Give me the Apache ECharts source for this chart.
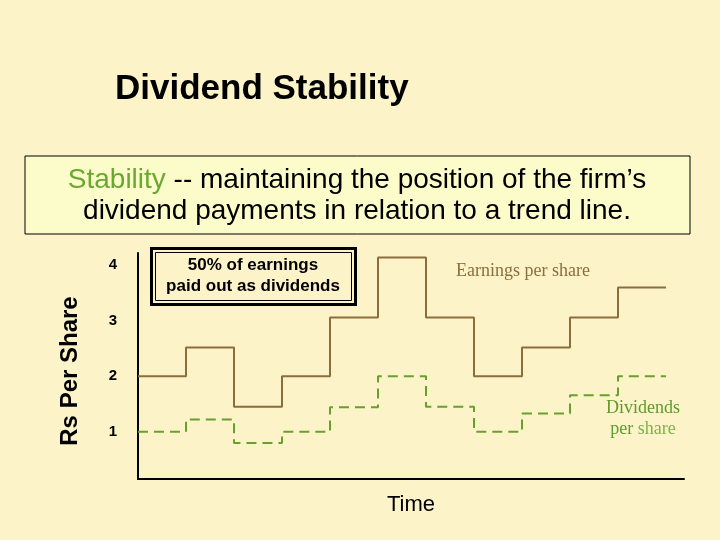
<!DOCTYPE html>
<html>
<head>
<meta charset="utf-8">
<script src="https://cdn.jsdelivr.net/npm/echarts@6/dist/echarts.min.js"></script>
<style>
  html, body { margin: 0; padding: 0; background: #fdf3c9; }
  #main { width: 720px; height: 540px; }
</style>
</head>
<body>
<div id="main"></div>
<script>
var myChart = echarts.init(document.getElementById('main'));

// step boundaries (time periods) and values per period
var periods = [0, 1, 2, 3, 4, 5, 6, 7, 8, 9, 10, 11];
var earnings = [2.0, 2.52, 1.45, 2.0, 3.06, 4.14, 3.06, 2.0, 2.52, 3.06, 3.6];
var dividends = [1.0, 1.22, 0.8, 1.0, 1.44, 2.0, 1.45, 1.0, 1.33, 1.66, 2.0];
var yTicks = [1, 2, 3, 4];

var colors = ['#8c6e3d', '#67a02c'];

function stepData(values) {
	return periods.map(function(p, i) {
		return [p, values[Math.min(i, values.length - 1)]];
	});
}

var shadow = {
	textShadowColor: 'rgba(0,0,0,0.3)',
	textShadowOffsetX: 1,
	textShadowOffsetY: 1,
	textShadowBlur: 0
};

var option = {
	backgroundColor: '#fdf3c9',
	animation: false,
	title: {
		text: 'Dividend Stability',
		left: 110,
		top: 67,
		textStyle: {
			fontFamily: 'Liberation Sans',
			fontSize: 35,
			fontWeight: 'bold',
			color: '#000'
		}
	},
	grid: {
		left: 138,
		right: 36,
		top: 253,
		bottom: 61
	},
	xAxis: {
		type: 'value',
		min: 0,
		max: 11.375,
		name: 'Time',
		nameLocation: 'middle',
		nameGap: 15,
		nameTextStyle: {
			fontFamily: 'Liberation Sans',
			fontSize: 22,
			color: '#000'
		},
		axisLine: { lineStyle: { color: '#000', width: 2 } },
		axisTick: { show: false },
		axisLabel: { show: false },
		splitLine: { show: false }
	},
	yAxis: {
		type: 'value',
		min: 0.15,
		max: 4.22,
		axisLine: { show: true, lineStyle: { color: '#000', width: 2 } },
		axisTick: { show: false },
		axisLabel: {
			customValues: yTicks,
			margin: 21,
			fontFamily: 'Liberation Sans',
			fontSize: 15,
			fontWeight: 'bold',
			color: '#000'
		},
		splitLine: { show: false }
	},
	series: [{
			name: 'Earnings per share',
			type: 'line',
			step: 'end',
			symbol: 'none',
			lineStyle: { color: colors[0], width: 2 },
			data: stepData(earnings)
		},
		{
			name: 'Dividends per share',
			type: 'line',
			step: 'end',
			symbol: 'none',
			lineStyle: { color: colors[1], width: 2, type: [10, 6] },
			data: stepData(dividends)
		}
	],
	graphic: [
		// y axis title
		{
			type: 'text',
			x: 70,
			y: 371,
			rotation: Math.PI / 2,
			style: {
				text: 'Rs Per Share',
				align: 'center',
				verticalAlign: 'middle',
				fontFamily: 'Liberation Sans',
				fontSize: 24,
				fontWeight: 'bold',
				fill: '#000'
			}
		},
		// definition box
		{
			type: 'rect',
			shape: { x: 25, y: 156, width: 665, height: 78 },
			style: { fill: '#fcfccb', stroke: '#000', lineWidth: 1 }
		},
		{
			type: 'text',
			x: 357,
			y: 180,
			style: {
				text: '{g|Stability} -- maintaining the position of the firm\u2019s',
				align: 'center',
				verticalAlign: 'middle',
				fontFamily: 'Liberation Sans',
				fontSize: 28,
				fill: '#000',
				rich: {
					g: Object.assign({
						fontFamily: 'Liberation Sans',
						fontSize: 28,
						fill: '#6aa830'
					}, shadow)
				}
			}
		},
		{
			type: 'text',
			x: 357,
			y: 211,
			style: {
				text: 'dividend payments in relation to a trend line.',
				align: 'center',
				verticalAlign: 'middle',
				fontFamily: 'Liberation Sans',
				fontSize: 28,
				fill: '#000'
			}
		},
		// 50% note box
		{
			type: 'rect',
			shape: { x: 151.5, y: 248.5, width: 204, height: 56 },
			style: { fill: 'none', stroke: '#000', lineWidth: 3 }
		},
		{
			type: 'rect',
			shape: { x: 155.5, y: 252.5, width: 196, height: 48 },
			style: { fill: 'none', stroke: '#000', lineWidth: 1 }
		},
		{
			type: 'text',
			x: 253,
			y: 276,
			style: {
				text: '50% of earnings\npaid out as dividends',
				align: 'center',
				verticalAlign: 'middle',
				lineHeight: 21,
				fontFamily: 'Liberation Sans',
				fontSize: 17,
				fontWeight: 'bold',
				fill: '#000'
			}
		},
		// series labels
		{
			type: 'text',
			x: 523,
			y: 271,
			style: Object.assign({
				text: 'Earnings per share',
				align: 'center',
				verticalAlign: 'middle',
				fontFamily: 'Liberation Serif',
				fontSize: 18,
				fill: colors[0]
			}, shadow)
		},
		{
			type: 'text',
			x: 643,
			y: 419,
			style: {
				text: '{d|Dividends}\n{p|per} {s|share}',
				align: 'center',
				verticalAlign: 'middle',
				fontFamily: 'Liberation Serif',
				fontSize: 18,
				lineHeight: 21,
				rich: {
					d: Object.assign({ fontFamily: 'Liberation Serif', fontSize: 18, fill: '#5e9a2c' }, shadow),
					p: Object.assign({ fontFamily: 'Liberation Serif', fontSize: 18, fill: '#5e9a2c' }, shadow),
					s: { fontFamily: 'Liberation Serif', fontSize: 18, fill: '#7fb04c' }
				}
			}
		}
	]
};

myChart.setOption(option);
</script>
</body>
</html>
